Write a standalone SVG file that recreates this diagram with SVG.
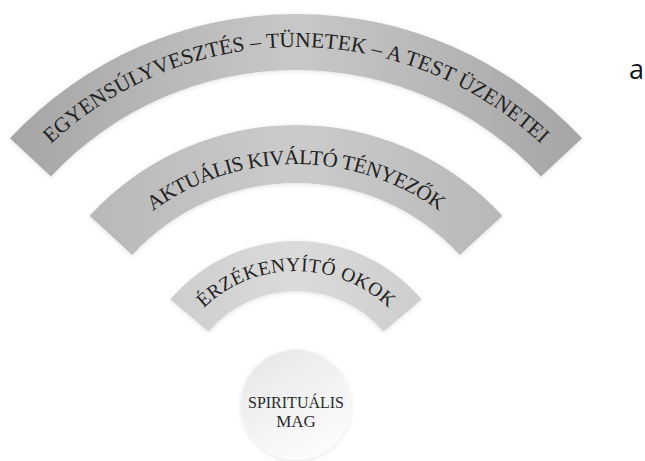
<svg xmlns="http://www.w3.org/2000/svg" width="645" height="461" viewBox="0 0 645 461">
<style>
.arc-text{font-family:"Liberation Serif","DejaVu Serif",serif;fill:#222;}
.core-text{font-family:"Liberation Serif","DejaVu Serif",serif;fill:#2a2a2a;font-size:17px;text-anchor:middle;}
.side{font-family:"Open Sans","Liberation Sans",sans-serif;font-size:27px;fill:#111;}
.band{filter:url(#sh);}
</style>
<defs>
<filter id="sh" x="-10%" y="-10%" width="120%" height="130%">
<feDropShadow dx="0" dy="1" stdDeviation="2" flood-color="#000" flood-opacity="0.12"/>
</filter>
<linearGradient id="g1" gradientUnits="userSpaceOnUse" x1="10" y1="0" x2="582" y2="0">
<stop offset="0" stop-color="#a5a5a5"/><stop offset="0.5" stop-color="#c8c8c8"/><stop offset="1" stop-color="#a5a5a5"/>
</linearGradient>
<linearGradient id="g2" gradientUnits="userSpaceOnUse" x1="90" y1="0" x2="502" y2="0">
<stop offset="0" stop-color="#b8b8b8"/><stop offset="0.5" stop-color="#cbcbcb"/><stop offset="1" stop-color="#b8b8b8"/>
</linearGradient>
<linearGradient id="g3" gradientUnits="userSpaceOnUse" x1="170" y1="0" x2="422" y2="0">
<stop offset="0" stop-color="#cdcdcd"/><stop offset="0.5" stop-color="#dbdbdb"/><stop offset="1" stop-color="#cdcdcd"/>
</linearGradient>
<linearGradient id="gc" x1="0" y1="0" x2="0.6" y2="1">
<stop offset="0" stop-color="#e6e6e6"/><stop offset="1" stop-color="#fcfcfc"/>
</linearGradient>
<path id="p1" d="M34.2,160.8 A358,358 0 0 1 557.8,160.8"/>
<path id="p2" d="M117.9,242.3 A242,242 0 0 1 474.1,242.3"/>
<path id="p3" d="M193.4,318.9 A134,134 0 0 1 398.6,318.9"/>
</defs>
<g id="connectors"/>
<g id="arc-outer">
<path class="band" d="M10,138.3 A391,391 0 0 1 582,138.3 L541,176.5 A335,335 0 0 0 51,176.5 Z" fill="url(#g1)"/>
<text class="arc-text" font-size="21.5"><textPath href="#p1" startOffset="50%" text-anchor="middle" textLength="540" lengthAdjust="spacing">EGYENSÚLYVESZTÉS – TÜNETEK – A TEST ÜZENETEI</textPath></text>
</g>
<g id="arc-middle">
<path class="band" d="M89.6,215.8 A280,280 0 0 1 502.4,215.8 L459.7,255 A222,222 0 0 0 132.3,255 Z" fill="url(#g2)"/>
<text class="arc-text" font-size="21"><textPath href="#p2" startOffset="50%" text-anchor="middle" textLength="306" lengthAdjust="spacing">AKTUÁLIS KIVÁLTÓ TÉNYEZŐK</textPath></text>
</g>
<g id="arc-inner">
<path class="band" d="M170.4,299.6 A164,164 0 0 1 421.6,299.6 L383.3,331.7 A114,114 0 0 0 208.7,331.7 Z" fill="url(#g3)"/>
<text class="arc-text" font-size="19.5"><textPath href="#p3" startOffset="50%" text-anchor="middle" textLength="204" lengthAdjust="spacing">ÉRZÉKENYÍTŐ OKOK</textPath></text>
</g>
<g id="core">
<circle cx="296" cy="405" r="55" fill="url(#gc)" filter="url(#sh)"/>
<text class="core-text" x="296" y="408" textLength="96" lengthAdjust="spacingAndGlyphs">SPIRITUÁLIS</text>
<text class="core-text" x="296" y="427">MAG</text>
</g>
<g id="label-a">
<text class="side" x="629" y="79">a</text>
</g>
</svg>
